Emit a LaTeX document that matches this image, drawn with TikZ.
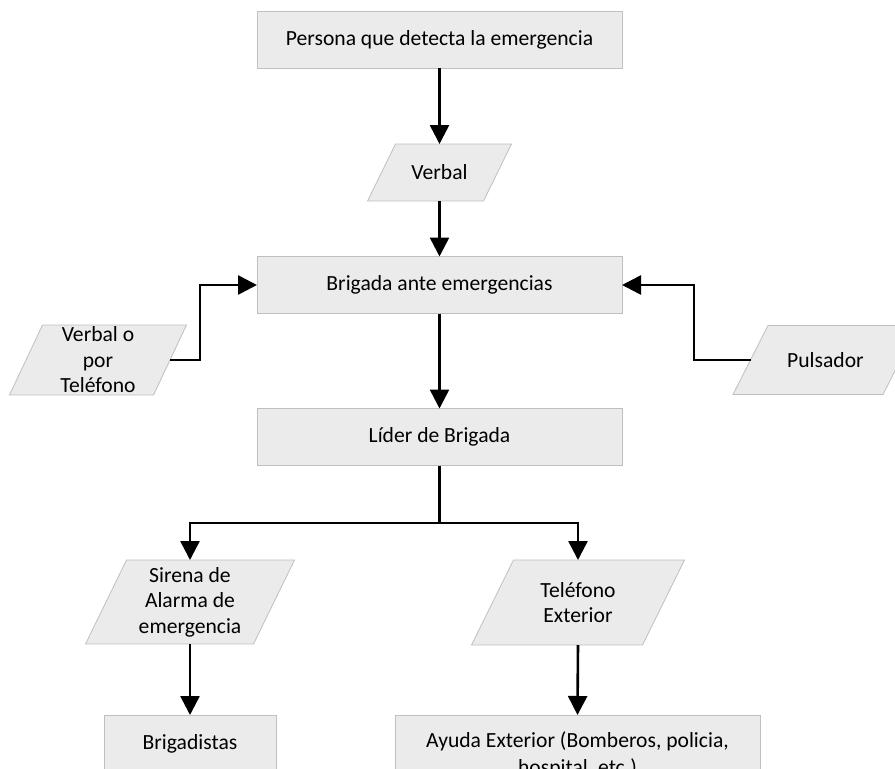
\documentclass[tikz,border=0pt]{standalone}
\usepackage{fontspec}
\setmainfont{Carlito}
\usetikzlibrary{arrows.meta,backgrounds}
\definecolor{boxfill}{HTML}{EBEBEB}
\definecolor{boxgray}{HTML}{BFBFBF}
\newcommand{\paraback}[2]{%
  \begin{scope}[on background layer]
    \draw[parashape] ([xshift=#2/2]#1.north west) -- ([xshift=#2/2]#1.north east)
      -- ([xshift=-#2/2]#1.south east) -- ([xshift=-#2/2]#1.south west) -- cycle;
  \end{scope}}
\begin{document}
\begin{tikzpicture}[x=1pt,y=-1pt,
  txt/.style={font=\fontsize{21.6}{25.5}\selectfont, align=center, inner sep=0pt, outer sep=0pt},
  box/.style={txt, draw=boxgray, fill=boxfill, line width=0.8pt, minimum width=365pt, minimum height=57pt},
  paratext/.style={txt},
  parashape/.style={draw=boxgray, fill=boxfill, line width=0.8pt},
  conn/.style={line width=2.6pt},
  arr/.style={conn, -{Triangle[length=19pt,width=19pt]}}]
\useasboundingbox (0,0) rectangle (895,769);

\node[box] (top) at (439.5,39.5) {Persona que detecta la emergencia};
\node[paratext, minimum width=116pt, minimum height=57pt] (verbal) at (439.5,172.5) {Verbal};
\paraback{verbal}{28}
\node[box] (brig) at (439.5,285) {Brigada ante emergencias};
\node[paratext, minimum width=144pt, minimum height=70pt] (left) at (98,360) {Verbal o\\por\\Teléfono};
\paraback{left}{33}
\node[paratext, minimum width=150pt, minimum height=69pt] (puls) at (825.5,360) {Pulsador};
\paraback{puls}{35}
\node[box] (lider) at (439.5,437) {Líder de Brigada};
\node[paratext, minimum width=168pt, minimum height=84pt] (sirena) at (190,602) {Sirena de\\Alarma de\\emergencia};
\paraback{sirena}{41}
\node[paratext, minimum width=171pt, minimum height=85pt] (tel) at (578,602.5) {Teléfono\\Exterior};
\paraback{tel}{42}
\node[box, minimum width=172pt] (brigadistas) at (190,743.5) {Brigadistas};
\node[box, minimum height=80pt, font=\fontsize{21.6}{27}\selectfont] (ayuda) at (577.5,755) {Ayuda Exterior (Bomberos, policia,\\hospital, etc.)};

\coordinate (lj) at (200,360);
\coordinate (rj) at (694,360);
\coordinate (br) at (439.5,523);

\draw[arr] (top.south) -- (verbal.north);
\draw[arr] (verbal.south) -- (brig.north);
\draw[arr] (left.east) -- (lj) |- (brig.west);
\draw[arr] (puls.west) -- (rj) |- (brig.east);
\draw[arr] (brig.south) -- (lider.north);
\draw[conn] (lider.south) -- (br);
\draw[arr] (br) -| (sirena.north);
\draw[arr] (br) -| (tel.north);
\draw[arr] (sirena.south) -- (brigadistas.north);
\draw[arr] (tel.south) -- (ayuda.north);
\end{tikzpicture}
\end{document}
